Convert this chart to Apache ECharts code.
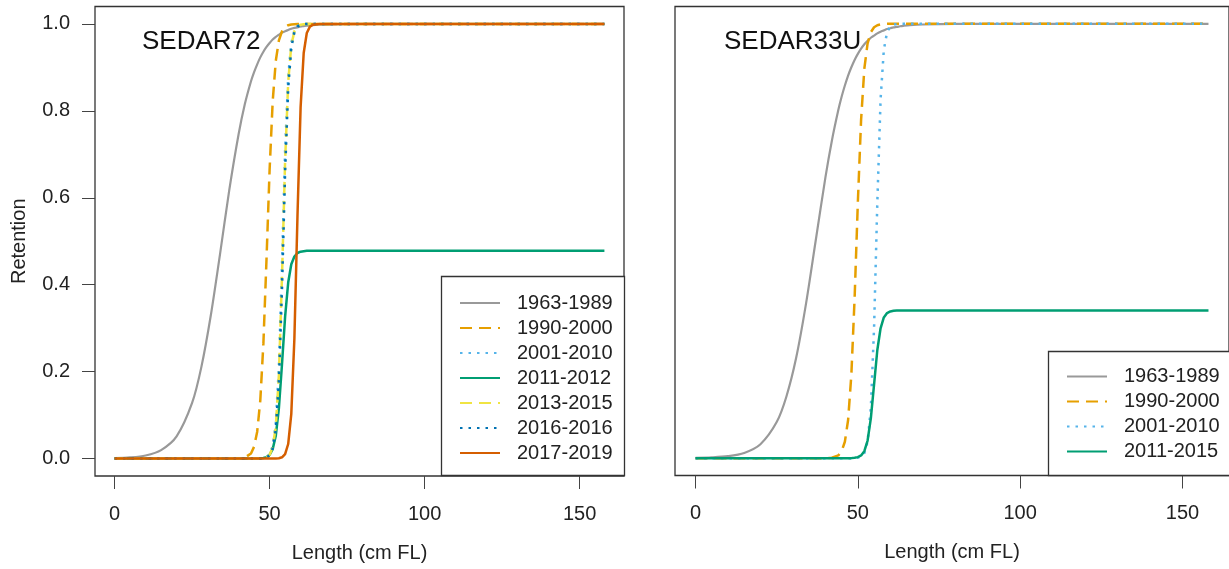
<!DOCTYPE html>
<html><head><meta charset="utf-8">
<script src="https://cdn.jsdelivr.net/npm/echarts@6/dist/echarts.min.js"></script>
<style>html,body{margin:0;padding:0;background:#fff}#c{width:1229px;height:569px}</style>
</head><body><div id="c"></div>
<script>
// ---- data ----
const lengths = [0,5,10,15,20,25,28,31,34,37,40,42,44,45,46,47,48,49,50,51,52,53,54,55,56,57,58,59,60,61,62,63,64,66,70,80,100,158];
const xTicks = [0,50,100,150];
const yTicks = [0,0.2,0.4,0.6,0.8,1.0];

// SEDAR72 panel
const namesL = ['1963-1989','1990-2000','2001-2010','2011-2012','2013-2015','2016-2016','2017-2019'];
const L_1963_1989 = [0.001,0.0027,0.0072,0.0195,0.051,0.128,0.211,0.328,0.470,0.618,0.746,0.815,0.868,0.889,0.907,0.923,0.936,0.947,0.956,0.964,0.970,0.975,0.980,0.983,0.986,0.989,0.991,0.992,0.994,0.995,0.996,0.9966,0.997,0.998,0.999,1,1,1];
const L_1990_2000 = [0,0,0,0,0,0,0,0,0,0,0,0.0022,0.0119,0.0274,0.062,0.134,0.265,0.458,0.664,0.822,0.915,0.962,0.983,0.993,0.997,0.9987,0.9994,1,1,1,1,1,1,1,1,1,1,1];
const L_2001_2010 = [0,0,0,0,0,0,0,0,0,0,0,0,0,0,0,0.0004,0.0011,0.0033,0.0098,0.0288,0.0817,0.211,0.445,0.707,0.879,0.956,0.985,0.995,0.9983,0.9994,1,1,1,1,1,1,1,1];
const L_2011_2012 = [0,0,0,0,0,0,0,0,0,0,0,0,0,0,0,0.0005,0.0013,0.0034,0.0087,0.0218,0.0526,0.116,0.217,0.326,0.405,0.447,0.465,0.473,0.476,0.477,0.478,0.478,0.478,0.478,0.478,0.478,0.478,0.478];
const L_2013_2015 = [0,0,0,0,0,0,0,0,0,0,0,0,0,0,0,0.0003,0.001,0.0029,0.0088,0.0258,0.0738,0.193,0.418,0.684,0.866,0.951,0.983,0.9943,0.9981,0.9994,1,1,1,1,1,1,1,1];
const L_2016_2016 = [0,0,0,0,0,0,0,0,0,0,0,0,0,0,0,0.0003,0.0009,0.0026,0.0078,0.0232,0.0666,0.176,0.392,0.659,0.853,0.946,0.981,0.9937,0.9979,0.9993,1,1,1,1,1,1,1,1];
const L_2017_2019 = [0,0,0,0,0,0,0,0,0,0,0,0,0,0,0,0,0,0,0,0,0,0.0009,0.0031,0.0104,0.0336,0.103,0.277,0.560,0.808,0.933,0.979,0.9936,0.998,1,1,1,1,1];

// SEDAR33U panel
const namesR = ['1963-1989','1990-2000','2001-2010','2011-2015'];
const R_1963_1989 = [0.0006,0.0017,0.0045,0.012,0.032,0.083,0.142,0.231,0.354,0.5,0.646,0.731,0.802,0.832,0.858,0.881,0.900,0.917,0.931,0.943,0.953,0.961,0.968,0.973,0.978,0.982,0.985,0.988,0.990,0.992,0.993,0.9945,0.9955,0.997,0.9986,0.9998,1,1];
const R_1990_2000 = [0,0,0,0,0,0,0,0,0,0,0,0.0011,0.0064,0.0157,0.0377,0.0878,0.192,0.368,0.589,0.779,0.897,0.955,0.981,0.9923,0.9969,0.9987,0.9995,1,1,1,1,1,1,1,1,1,1,1];
const R_2001_2010 = [0,0,0,0,0,0,0,0,0,0,0,0,0,0,0,0,0,0.0003,0.0011,0.0035,0.0117,0.0377,0.115,0.301,0.589,0.826,0.940,0.981,0.9943,0.9983,0.9995,1,1,1,1,1,1,1];
const R_2011_2015 = [0,0,0,0,0,0,0,0,0,0,0,0,0,0,0,0,0,0.0008,0.0023,0.0061,0.0161,0.0405,0.0914,0.17,0.249,0.299,0.324,0.334,0.3377,0.3392,0.3397,0.34,0.34,0.34,0.34,0.34,0.34,0.34];

// ---- styles ----
const FONT = 'Liberation Sans, Arial, sans-serif';
const DASH = [12,7], DOT = [2.5,6];
const stylesL = [
  {color:'#999999', type:'solid', width:2.2, smooth:0.3},
  {color:'#E69F00', type:DASH, width:2.5, smooth:false},
  {color:'#56B4E9', type:DOT, width:2.5, smooth:false},
  {color:'#009E73', type:'solid', width:2.5, smooth:false},
  {color:'#F0E442', type:DASH, width:2.5, smooth:false},
  {color:'#0072B2', type:DOT, width:2.5, smooth:false},
  {color:'#D55E00', type:'solid', width:2.5, smooth:false}
];
const stylesR = stylesL.slice(0,4);
const valsL = [L_1963_1989,L_1990_2000,L_2001_2010,L_2011_2012,L_2013_2015,L_2016_2016,L_2017_2019];
const valsR = [R_1963_1989,R_1990_2000,R_2001_2010,R_2011_2015];

function mk(name, vals, st, gi){
  return {
    name, type:'line', xAxisIndex:gi, yAxisIndex:gi, symbol:'none', showSymbol:false,
    silent:true, animation:false,
    smooth: st.smooth,
    data: lengths.map((x,i)=>[x, vals[i]]),
    lineStyle:{color:st.color, width:st.width, type:st.type, cap:'butt'},
    itemStyle:{color:st.color}
  };
}
const series = [];
namesL.forEach((n,i)=>series.push(mk(n, valsL[i], stylesL[i], 0)));
namesR.forEach((n,i)=>series.push(mk(n, valsR[i], stylesR[i], 1)));

function xAxis(gi){
  return {
    type:'value', gridIndex:gi, min:-6.32, max:164.32,
    axisLine:{show:false, onZero:false}, splitLine:{show:false},
    axisTick:{show:true, inside:false, length:13, lineStyle:{color:'#444', width:1}, customValues:xTicks},
    axisLabel:{customValues:xTicks, fontSize:20, color:'#222', margin:28, fontFamily:FONT},
    name:'Length (cm FL)', nameLocation:'middle', nameGap:67,
    nameTextStyle:{fontSize:20, color:'#222', fontFamily:FONT}
  };
}
const legendCommon = {
  orient:'vertical', itemWidth:40, itemHeight:14, itemGap:5, z:60,
  itemStyle:{opacity:0},
  textStyle:{fontSize:20, color:'#222', fontFamily:FONT, padding:[0,0,0,12]},
  selectedMode:false
};

const option = {
  animation:false,
  backgroundColor:'#fff',
  title:[
    {text:'SEDAR72', left:142, top:29, padding:0, textStyle:{fontSize:26, fontWeight:'normal', color:'#111', fontFamily:FONT}},
    {text:'SEDAR33U', left:724, top:29, padding:0, textStyle:{fontSize:26, fontWeight:'normal', color:'#111', fontFamily:FONT}}
  ],
  grid:[
    {left:95, top:6.5, width:529, height:469.5, show:true, borderColor:'#333', borderWidth:1.3, backgroundColor:'transparent'},
    {left:675, top:6.5, width:555, height:469, show:true, borderColor:'#333', borderWidth:1.3, backgroundColor:'transparent'}
  ],
  xAxis:[xAxis(0), xAxis(1)],
  yAxis:[
    {type:'value', gridIndex:0, min:-0.04, max:1.04,
     axisLine:{show:false, onZero:false}, splitLine:{show:false},
     axisTick:{show:true, inside:false, length:13, lineStyle:{color:'#444', width:1}, customValues:yTicks},
     axisLabel:{customValues:yTicks, formatter:v=>v.toFixed(1), fontSize:20, color:'#222', margin:25, fontFamily:FONT},
     name:'Retention', nameLocation:'middle', nameGap:66, nameRotate:90,
     nameTextStyle:{fontSize:20, color:'#222', fontFamily:FONT}},
    {type:'value', gridIndex:1, min:-0.04, max:1.04,
     axisLine:{show:false, onZero:false}, splitLine:{show:false}, axisTick:{show:false}, axisLabel:{show:false}}
  ],
  legend:[
    Object.assign({}, legendCommon, {data:namesL, left:454, top:288}),
    Object.assign({}, legendCommon, {data:namesR, left:1061, top:361.5})
  ],
  graphic:[
    {type:'rect', z:50, shape:{x:441.5, y:276.5, width:183, height:199}, style:{fill:'#fff', stroke:'#333', lineWidth:1.3}},
    {type:'rect', z:50, shape:{x:1048.5, y:351.5, width:200, height:124}, style:{fill:'#fff', stroke:'#333', lineWidth:1.3}}
  ],
  series
};
const chart = echarts.init(document.getElementById('c'), null, {renderer:'canvas'});
chart.setOption(option);
</script>
</body></html>
